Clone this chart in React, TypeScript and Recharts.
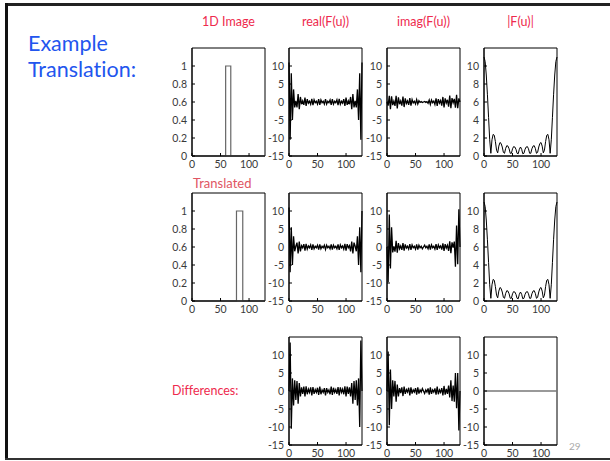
import { LineChart, Line, XAxis, YAxis, ReferenceArea } from "recharts";

// frequency index u (every other sample)
const U = [
  0, 2, 4, 6, 8, 10, 12, 14, 16, 18, 20, 22, 24, 26, 28, 30, 32, 34, 36, 38, 40, 42,
  44, 46, 48, 50, 52, 54, 56, 58, 60, 62, 64, 66, 68, 70, 72, 74, 76, 78, 80, 82, 84,
  86, 88, 90, 92, 94, 96, 98, 100, 102, 104, 106, 108, 110, 112, 114, 116, 118, 120,
  122, 124, 126, 128,
];

// 1D image (box) outlines
const BOX1_X = [0, 59, 59, 68, 68, 128];
const BOX1_Y = [0, 0, 1, 1, 0, 0];
const BOX2_X = [0, 78, 78, 89, 89, 128];
const BOX2_Y = [0, 0, 1, 1, 0, 0];

// |F(u)| (same for both images)
const MAG = [
  11, 10.5, 9.0, 6.8, 4.3, 1.8, 0.3, 1.8, 2.4, 2.3, 1.6, 0.65, 0.35, 1.1, 1.5, 1.4, 1.0,
  0.4, 0.3, 0.85, 1.15, 1.1, 0.8, 0.3, 0.3, 0.8, 1.05, 1.0, 0.75, 0.3, 0.25, 0.75, 1.0,
  0.75, 0.25, 0.3, 0.75, 1.0, 1.05, 0.8, 0.3, 0.3, 0.8, 1.1, 1.15, 0.85, 0.3, 0.4, 1.0,
  1.4, 1.5, 1.1, 0.35, 0.65, 1.6, 2.3, 2.4, 1.8, 0.3, 1.8, 4.3, 6.8, 9.0, 10.5, 11,
];

const RE1 = [
  11, -10.5, 8, -5, 3.5, -1.5, 0.3, -1.5, 2.2, -2, 1.4, -0.6, 0.3, -0.8, 1.2, -1.1, 0.8,
  -0.3, 0.2, -0.6, 0.9, -0.9, 0.6, -0.2, 0.2, -0.6, 0.8, -0.8, 0.6, -0.2, 0.2, -0.6, 0.8,
  -0.6, 0.2, -0.2, 0.6, -0.8, 0.8, -0.6, 0.2, -0.2, 0.6, -0.9, 0.9, -0.6, 0.2, -0.3, 0.8,
  -1.1, 1.2, -0.8, 0.3, -0.6, 1.4, -2, 2.2, -1.5, 0.3, -1.5, 3.5, -5, 8, -10.5, 11,
];

const IM1 = [
  0, -1.0, 1.7, -2.0, 1.6, -0.85, 0.2, -1.1, 1.7, -1.8, 1.3, -0.6, 0.3, -1.0, 1.5, -1.4,
  1.0, -0.4, 0.3, -0.8, 1.1, -1.0, 0.7, -0.25, 0.2, -0.55, 0.65, -0.55, 0.35, -0.1, 0.1,
  -0.15, 0, 0.15, -0.1, 0.1, -0.35, 0.55, -0.65, 0.55, -0.2, 0.25, -0.7, 1.0, -1.1, 0.8,
  -0.3, 0.4, -1.0, 1.4, -1.5, 1.0, -0.3, 0.6, -1.3, 1.8, -1.7, 1.1, -0.2, 0.85, -1.6,
  2.0, -1.7, 1.0, 0,
];

const RE2 = [
  11, -7, 5.5, -5, 3, -1.2, 0.2, 1.2, -1.8, 1.5, -1.2, 0.4, -0.2, 0.8, -1.0, 0.9, -0.6,
  0.3, -0.2, 0.6, -0.8, 0.7, -0.5, 0.2, -0.2, 0.5, -0.7, 0.7, -0.5, 0.2, -0.2, 0.5, -0.7,
  0.5, -0.2, 0.2, -0.5, 0.7, -0.7, 0.5, -0.2, 0.2, -0.5, 0.7, -0.8, 0.6, -0.2, 0.3, -0.6,
  0.9, -1.0, 0.8, -0.2, 0.4, -1.2, 1.5, -1.8, 1.2, 0.2, -1.2, 3, -5, 5.5, -7, 10,
];

const IM2 = [
  0, -9.8, 9, -6, 5.5, -1.5, 0.2, -1.3, 1.7, -1.6, 1.1, -0.5, 0.3, -0.8, 1.1, -1.0, 0.7,
  -0.3, 0.2, -0.6, 0.8, -0.8, 0.6, -0.2, 0.2, -0.6, 0.7, -0.7, 0.5, -0.2, 0.2, -0.5, 0,
  0.5, -0.2, 0.2, -0.5, 0.7, -0.7, 0.6, -0.2, 0.2, -0.6, 0.8, -0.8, 0.6, -0.2, 0.3, -0.7,
  1.0, -1.1, 0.8, -0.3, 0.5, -1.1, 1.6, -1.7, 1.3, -0.2, 1.5, -5.5, 6, -4.8, 10.5, 0,
];

const RE_DIFF = [
  0, 13.5, -10.5, 3.5, -4, 3, -2.5, 2.8, -3.5, 2.2, -1.5, 1.0, -0.8, 1.2, -1.5, 1.3, -0.9,
  0.5, -0.4, 1.0, -1.2, 1.1, -0.8, 0.4, -0.4, 0.9, -1.1, 1.2, -0.9, 0.3, -0.4, 0.8, -1.2,
  0.8, -0.4, 0.3, -0.9, 1.2, -1.1, 0.9, -0.4, 0.4, -0.8, 1.1, -1.2, 1.0, -0.4, 0.5, -0.9,
  1.3, -1.5, 1.2, -0.8, 1.0, -1.5, 2.2, -3.5, 2.8, -2.5, 3, -4, 3.5, -10, 14, 0,
];

const IM_DIFF = [
  0, 11, -9.5, 6, -5, 3, -1.5, 2.8, -3, 1.8, -1.5, 0.8, -0.6, 1.0, -1.4, 1.2, -0.8, 0.4,
  -0.3, 0.9, -1.2, 1.0, -0.7, 0.3, -0.3, 0.8, -1.0, 1.0, -0.7, 0.3, -0.3, 0.7, 0, -0.7,
  0.3, -0.3, 0.7, -1.0, 1.0, -0.8, 0.3, -0.3, 0.7, -1.0, 1.2, -0.9, 0.3, -0.4, 0.8, -1.2,
  1.4, -1.0, 0.6, -0.8, 1.5, -1.8, 3, -2.8, 1.5, -3, 5, -4.8, 5, -11, 0,
];

const MAG_DIFF = [
  0, 0, 0, 0, 0, 0, 0, 0, 0, 0, 0, 0, 0, 0, 0, 0, 0, 0, 0, 0, 0, 0, 0, 0, 0, 0, 0, 0, 0,
  0, 0, 0, 0, 0, 0, 0, 0, 0, 0, 0, 0, 0, 0, 0, 0, 0, 0, 0, 0, 0, 0, 0, 0, 0, 0, 0, 0, 0,
  0, 0, 0, 0, 0, 0, 0,
];

const X_TICKS = [0, 50, 100];
const BOX_TICKS = [0, 0.2, 0.4, 0.6, 0.8, 1];
const F_TICKS = [-15, -10, -5, 0, 5, 10];
const MAG_TICKS = [0, 2, 4, 6, 8, 10];

const FONT = "Lato, 'Open Sans', sans-serif";
const TICK = { fontSize: 10.5, fill: "#3a3a3a", fontFamily: FONT };

const PLOT_W = 73;
const PLOT_H = 108;
const AXIS_W = 30;
const AXIS_H = 18;

const COLS = [192, 289, 387, 484];
const ROWS = [48, 193, 337];

type Pt = { u: number; v: number };

const toPoints = (xs: number[], ys: number[]): Pt[] =>
  xs.map((u, i) => ({ u, v: ys[i] }));

interface PanelProps {
  x: number;
  y: number;
  points: Pt[];
  domain: [number, number];
  ticks: number[];
  stroke?: string;
  strokeWidth?: number;
}

function Panel({ x, y, points, domain, ticks, stroke = "#000", strokeWidth = 1.3 }: PanelProps) {
  const axis = { stroke: "#000", strokeWidth: 1 };
  return (
    <div style={{ position: "absolute", left: x - AXIS_W, top: y - 2 }}>
      <LineChart
        width={AXIS_W + PLOT_W + 4}
        height={2 + PLOT_H + AXIS_H}
        data={points}
        margin={{ top: 2, right: 4, bottom: 0, left: 0 }}
      >
        <XAxis
          type="number"
          dataKey="u"
          domain={[0, 128]}
          ticks={X_TICKS}
          interval={0}
          height={AXIS_H}
          tick={TICK}
          tickSize={-3}
          tickMargin={8}
          axisLine={axis}
          tickLine={axis}
        />
        <YAxis
          type="number"
          domain={domain}
          ticks={ticks}
          interval={0}
          width={AXIS_W}
          tick={TICK}
          tickSize={-3}
          tickMargin={8}
          axisLine={axis}
          tickLine={axis}
        />
        <ReferenceArea
          x1={0}
          x2={128}
          y1={domain[0]}
          y2={domain[1]}
          fill="none"
          fillOpacity={0}
          stroke="#000"
          strokeWidth={1}
          ifOverflow="visible"
        />
        <Line
          type="linear"
          dataKey="v"
          stroke={stroke}
          strokeWidth={strokeWidth}
          dot={false}
          isAnimationActive={false}
        />
      </LineChart>
    </div>
  );
}

const label = (
  text: string,
  left: number,
  top: number,
  color: string,
  size: number,
  extra: React.CSSProperties = {}
) => (
  <div
    style={{
      position: "absolute",
      left,
      top,
      color,
      fontSize: size,
      fontFamily: FONT,
      whiteSpace: "nowrap",
      lineHeight: 1,
      fontVariantLigatures: "none",
      ...extra,
    }}
  >
    {text}
  </div>
);

export default function App() {
  const titleRed = "#ee2a4d";
  return (
    <div
      style={{
        position: "absolute",
        left: 0,
        top: 0,
        width: 610,
        height: 461,
        background: "#fff",
        overflow: "hidden",
      }}
    >
      {/* slide frame */}
      <div style={{ position: "absolute", left: 5, top: 3, width: 605, height: 2.5, background: "#222" }} />
      <div style={{ position: "absolute", left: 5, top: 3, width: 2.5, height: 457, background: "#111" }} />
      <div style={{ position: "absolute", left: 5, top: 458, width: 605, height: 2, background: "#333" }} />

      {/* left heading */}
      <div
        style={{
          position: "absolute",
          left: 28,
          top: 30,
          color: "#2255ee",
          fontSize: 21.5,
          lineHeight: "26px",
          fontFamily: FONT,
          fontVariantLigatures: "none",
        }}
      >
        Example
        <br />
        Translation:
      </div>

      {/* column titles */}
      {label("1D Image", COLS[0], 16, titleRed, 12.5, { width: PLOT_W, textAlign: "center" })}
      {label("real(F(u))", COLS[1], 16, titleRed, 12.5, { width: PLOT_W, textAlign: "center" })}
      {label("imag(F(u))", COLS[2], 16, titleRed, 12.5, { width: PLOT_W, textAlign: "center" })}
      {label("|F(u)|", COLS[3], 16, titleRed, 12.5, { width: PLOT_W, textAlign: "center" })}
      {label("Translated", 193, 177, "#e05563", 13)}
      {label("Differences:", 172, 385, titleRed, 12.5)}
      {label("29", 569, 441, "#aaaaaa", 10)}

      {/* row 1: original */}
      <Panel x={COLS[0]} y={ROWS[0]} points={toPoints(BOX1_X, BOX1_Y)} domain={[0, 1.2]} ticks={BOX_TICKS} stroke="#666" strokeWidth={1.2} />
      <Panel x={COLS[1]} y={ROWS[0]} points={toPoints(U, RE1)} domain={[-15, 15]} ticks={F_TICKS} />
      <Panel x={COLS[2]} y={ROWS[0]} points={toPoints(U, IM1)} domain={[-15, 15]} ticks={F_TICKS} />
      <Panel x={COLS[3]} y={ROWS[0]} points={toPoints(U, MAG)} domain={[0, 12]} ticks={MAG_TICKS} strokeWidth={1} />

      {/* row 2: translated */}
      <Panel x={COLS[0]} y={ROWS[1]} points={toPoints(BOX2_X, BOX2_Y)} domain={[0, 1.2]} ticks={BOX_TICKS} stroke="#666" strokeWidth={1.2} />
      <Panel x={COLS[1]} y={ROWS[1]} points={toPoints(U, RE2)} domain={[-15, 15]} ticks={F_TICKS} />
      <Panel x={COLS[2]} y={ROWS[1]} points={toPoints(U, IM2)} domain={[-15, 15]} ticks={F_TICKS} />
      <Panel x={COLS[3]} y={ROWS[1]} points={toPoints(U, MAG)} domain={[0, 12]} ticks={MAG_TICKS} strokeWidth={1} />

      {/* row 3: differences */}
      <Panel x={COLS[1]} y={ROWS[2]} points={toPoints(U, RE_DIFF)} domain={[-15, 15]} ticks={F_TICKS} />
      <Panel x={COLS[2]} y={ROWS[2]} points={toPoints(U, IM_DIFF)} domain={[-15, 15]} ticks={F_TICKS} />
      <Panel x={COLS[3]} y={ROWS[2]} points={toPoints(U, MAG_DIFF)} domain={[-15, 15]} ticks={F_TICKS} stroke="#777" strokeWidth={1.6} />
    </div>
  );
}
